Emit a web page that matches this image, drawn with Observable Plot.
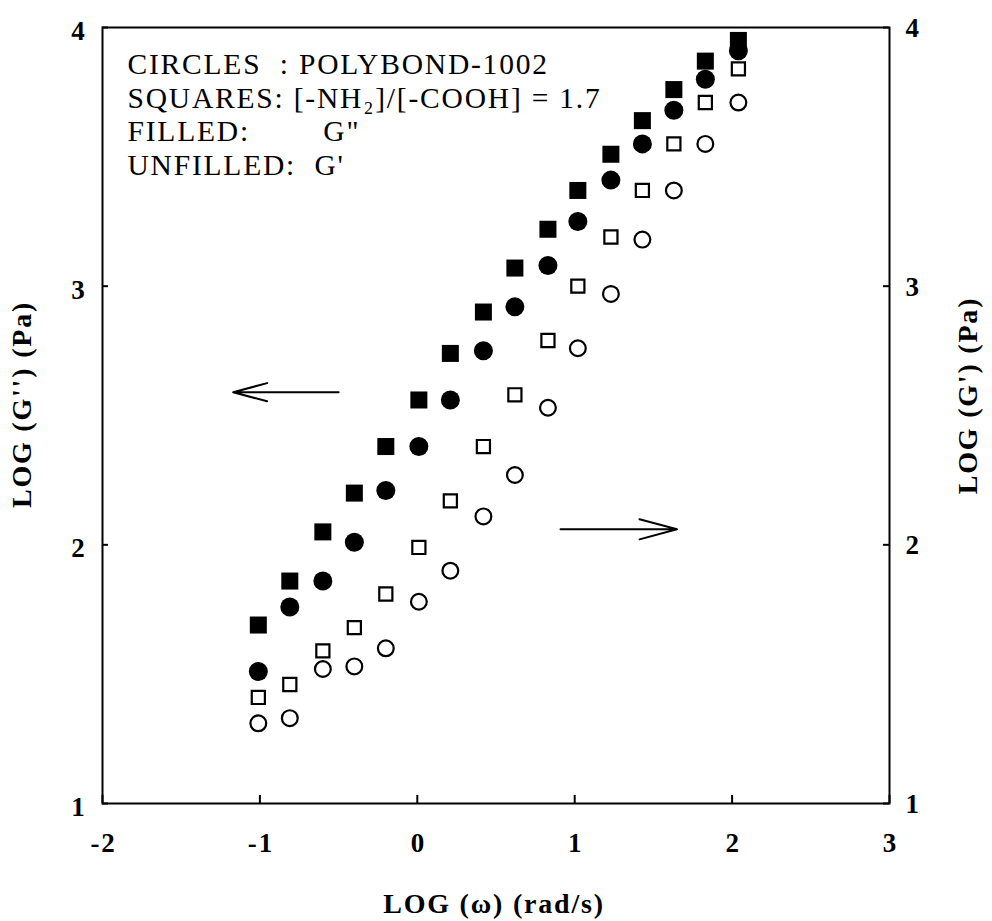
<!DOCTYPE html>
<html><head><meta charset="utf-8">
<script src="https://cdn.jsdelivr.net/npm/d3@7"></script>
<script src="https://cdn.jsdelivr.net/npm/@observablehq/plot@0.6"></script>
<style>
html,body{margin:0;padding:0;background:#fff}
#chart svg{display:block}
</style>
</head><body><div id="chart"></div>
<script>
// LOG(omega) of each frequency (shared by all four series)
const logOmega = [-1.01, -0.81, -0.60, -0.40, -0.20, 0.01, 0.21, 0.42, 0.62, 0.83, 1.02, 1.23, 1.43, 1.63, 1.83, 2.04];
// Filled squares: G'' , [-NH2]/[-COOH] = 1.7
const gDoubleSquares = [1.69, 1.86, 2.05, 2.20, 2.38, 2.56, 2.74, 2.90, 3.07, 3.22, 3.37, 3.51, 3.64, 3.76, 3.87, 3.95];
// Filled circles: G'' , POLYBOND-1002
const gDoubleCircles = [1.51, 1.76, 1.86, 2.01, 2.21, 2.38, 2.56, 2.75, 2.92, 3.08, 3.25, 3.41, 3.55, 3.68, 3.80, 3.91];
// Unfilled squares: G' , [-NH2]/[-COOH] = 1.7
const gPrimeSquares = [1.41, 1.46, 1.59, 1.68, 1.81, 1.99, 2.17, 2.38, 2.58, 2.79, 3.00, 3.19, 3.37, 3.55, 3.71, 3.84];
// Unfilled circles: G' , POLYBOND-1002
const gPrimeCircles = [1.31, 1.33, 1.52, 1.53, 1.60, 1.78, 1.90, 2.11, 2.27, 2.53, 2.76, 2.97, 3.18, 3.37, 3.55, 3.71];

const xTicks = [-2, -1, 0, 1, 2, 3];
const yTicks = [1, 2, 3, 4];
const legendLines = ["CIRCLES  : POLYBOND-1002", "SQUARES: [-NH\u2082]/[-COOH] = 1.7", "FILLED:        G\"", "UNFILLED:  G'"];
const xTitle = "LOG (\u03c9) (rad/s)";
const yLeftTitle = "LOG (G'') (Pa)";
const yRightTitle = "LOG (G') (Pa)";
// annotation arrows (axis pointers), in data units
const arrowX1 = [-0.50, 0.91];
const arrowX2 = [-1.17, 1.65];
const arrowY = [2.59, 2.06];

const pts = (ys) => logOmega.map((x, i) => ({x, y: ys[i]}));
const arrows = arrowX1.map((x1, i) => ({x1, x2: arrowX2[i], y: arrowY[i]}));
const fmt = d => String(d);
const serif = "'Liberation Serif', 'Times New Roman', serif";
const W = 992, H = 921, ML = 102, MR = 103, MT = 27, MB = 118;
const innerW = W - ML - MR, innerH = H - MT - MB;

const chart = Plot.plot({
  width: W, height: H,
  marginLeft: ML, marginRight: MR, marginTop: MT, marginBottom: MB,
  style: {fontFamily: serif, background: "#fff", color: "#000", whiteSpace: "pre", letterSpacing: "1.8px"},
  x: {domain: [-2, 3], axis: null},
  y: {domain: [1, 4], axis: null},
  marks: [
    Plot.frame({stroke: "#000", strokeWidth: 2}),
    // inward ticks
    Plot.tickX(xTicks, {x: d => d, insetTop: innerH - 8, stroke: "#000", strokeWidth: 2}),
    Plot.tickY(yTicks, {y: d => d, insetRight: innerW - 6, stroke: "#000", strokeWidth: 2}),
    Plot.tickY(yTicks, {y: d => d, insetLeft: innerW - 6, stroke: "#000", strokeWidth: 2}),
    // tick labels
    Plot.text(xTicks, {ariaLabel: "xtick-label", x: d => d, text: fmt, frameAnchor: "bottom", lineAnchor: "top", dx: 1, dy: 29, fontSize: 27, fontWeight: "bold", fill: "#000"}),
    Plot.text(yTicks, {ariaLabel: "ytick-label", y: d => d, text: fmt, frameAnchor: "left", textAnchor: "end", lineAnchor: "middle", dx: -16, dy: 4, fontSize: 27, fontWeight: "bold", fill: "#000"}),
    Plot.text(yTicks, {ariaLabel: "ytick-label", y: d => d, text: fmt, frameAnchor: "right", textAnchor: "start", lineAnchor: "middle", dx: 16, dy: 1, fontSize: 27, fontWeight: "bold", fill: "#000"}),
    // legend / titles
    Plot.text([legendLines.join("\n")], {ariaLabel: "legend", frameAnchor: "top-left", textAnchor: "start", lineAnchor: "top", dx: 25, dy: 22, fontSize: 29.5, lineHeight: 1.15, fill: "#000"}),
    Plot.text([xTitle], {ariaLabel: "x-title", frameAnchor: "bottom", textAnchor: "middle", dx: -2, dy: 109, fontSize: 28, fontWeight: "bold", fill: "#000"}),
    Plot.text([yLeftTitle], {ariaLabel: "y-title", frameAnchor: "left", textAnchor: "middle", dx: -80, dy: -11, rotate: -90, fontSize: 28, fontWeight: "bold", fill: "#000"}),
    Plot.text([yRightTitle], {ariaLabel: "y-title", frameAnchor: "right", textAnchor: "middle", dx: 79, dy: -20, rotate: -90, fontSize: 28, fontWeight: "bold", fill: "#000"}),
    // arrows
    Plot.arrow(arrows, {x1: "x1", x2: "x2", y1: "y", y2: "y", stroke: "#000", strokeWidth: 2, headLength: 36, headAngle: 30}),
    // data
    Plot.dot(pts(gPrimeCircles), {x: "x", y: "y", r: 7.9, stroke: "#000", strokeWidth: 2.2, fill: "none"}),
    Plot.dot(pts(gPrimeSquares), {x: "x", y: "y", symbol: "square", r: 7.4, stroke: "#000", strokeWidth: 2.2, fill: "none"}),
    Plot.dot(pts(gDoubleCircles), {x: "x", y: "y", r: 9.5, fill: "#000", stroke: "none"}),
    Plot.dot(pts(gDoubleSquares), {x: "x", y: "y", symbol: "square", r: 9.6, fill: "#000", stroke: "none"})
  ]
});
document.getElementById("chart").appendChild(chart);
</script>
</body></html>
